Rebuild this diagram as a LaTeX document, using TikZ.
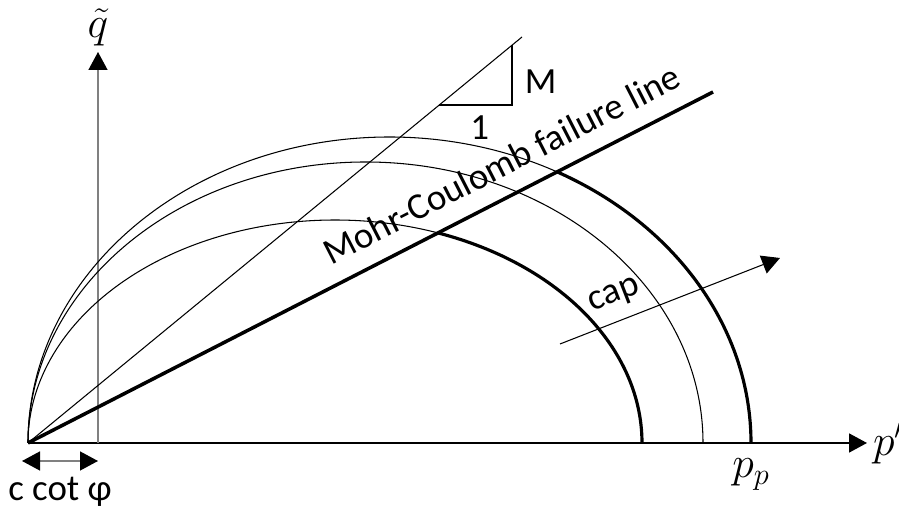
\documentclass[tikz,border=0pt]{standalone}
\usepackage{amsmath}
\usepackage{fontspec}
\setmainfont{Carlito}
\usepackage{tikz}
\usetikzlibrary{arrows.meta}
\definecolor{GrisEje}{RGB}{128,128,128}

\begin{document}
\begin{tikzpicture}[>={Triangle[length=0.36cm,width=0.38cm,black]},
  fino/.style={line width=0.6pt},
  grueso/.style={line width=1.8pt},
  rotulo/.style={font=\fontsize{21}{25}\selectfont,inner sep=3pt},
  simbolo/.style={font=\fontsize{24}{28}\selectfont,inner sep=3pt}]
  \useasboundingbox (-0.56,-1.40) rectangle (17.42,8.86);
  \coordinate (O) at (0,0);
  \coordinate (pFin) at (16.78,0);
  \coordinate (qIni) at (1.40,0);
  \coordinate (qFin) at (1.40,7.82);
  % ejes
  \draw[->,line width=1pt] (O) -- (pFin) node[simbolo,right] (pLab) {$p'$};
  \draw[->,line width=0.75pt,GrisEje] (qIni) -- (qFin) node[simbolo,above=0pt,black] (qLab) {$\tilde{q}$};
  % rectas
  \coordinate (MFin) at (9.88,8.12);
  \coordinate (MCFin) at (13.70,7.02);
  \draw[fino] (O) -- (MFin);
  \draw[line width=2pt] (O) -- (MCFin) node[rotulo,pos=0.713,above=7pt,sloped] (mcLab) {Mohr-Coulomb failure line};
  % pendiente M
  \coordinate (T1) at (8.225,6.76);
  \coordinate (T2) at (9.68,6.76);
  \coordinate (T3) at (9.68,7.956);
  \draw[fino] (T1) -- node[rotulo,pos=0.555,below=3pt] (uno) {1} (T2) -- node[rotulo,pos=0.39,right=4pt] (mLab) {M} (T3);
  % superficies
  \draw[fino] (O) arc[start angle=180,end angle=70.4,x radius=6.14cm,y radius=4.46cm] coordinate (iMC);
  \draw[grueso] (iMC) arc[start angle=70.4,end angle=0,x radius=6.14cm,y radius=4.46cm];
  \draw[fino] (O) arc[start angle=180,end angle=0,x radius=6.75cm,y radius=5.62cm];
  \draw[fino] (O) arc[start angle=180,end angle=62.3,x radius=7.23cm,y radius=6.12cm] coordinate (eMC);
  \draw[grueso] (eMC) arc[start angle=62.3,end angle=0,x radius=7.23cm,y radius=6.12cm] coordinate (pp);
  \node[simbolo,below=6pt] (ppLab) at (pp) {$p_p$};
  % cap
  \coordinate (capIni) at (10.64,1.98);
  \coordinate (capFin) at (15.04,3.70);
  \draw[->,fino] (capIni) -- (capFin) node[rotulo,pos=0.289,above=4pt,sloped] (capLab) {cap};
  % c cot phi
  \coordinate (cIni) at (-0.12,-0.36);
  \coordinate (cFin) at (1.40,-0.36);
  \draw[<->,GrisEje,line width=0.8pt] (cIni) -- (cFin) node[rotulo,midway,below=6pt,black] (cLab) {c cot φ};
\end{tikzpicture}
\end{document}
